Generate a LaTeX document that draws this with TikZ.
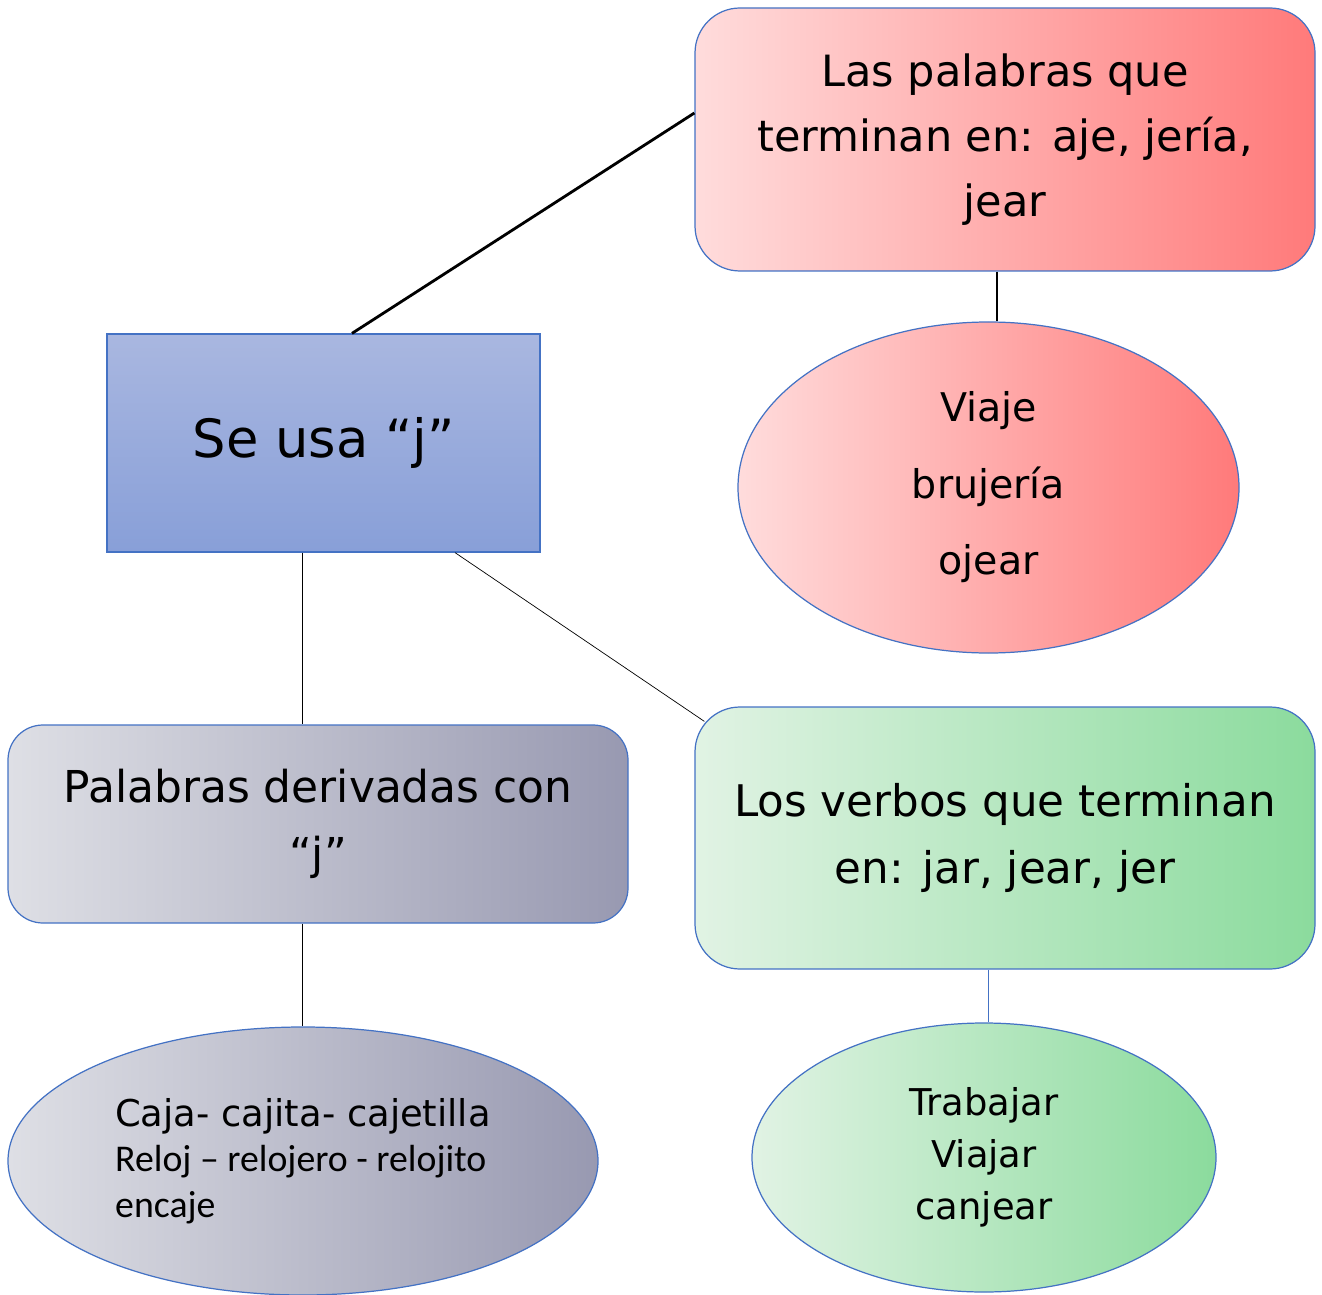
\documentclass[tikz,border=0pt]{standalone}
\usepackage{fontspec}
\setmainfont{DejaVu Sans}
\newfontfamily\calibrifont{Carlito}
\usetikzlibrary{positioning,shapes.geometric}
\definecolor{edgeblue}{HTML}{4472C4}
\begin{document}
\begin{tikzpicture}[
				bluebox/.style={rectangle, draw=edgeblue, line width=0.7pt, top color={rgb,255:red,169;green,183;blue,224}, bottom color={rgb,255:red,136;green,159;blue,216}, minimum width=8.66cm, minimum height=4.36cm, inner sep=0pt, font=\fontsize{30}{36}\selectfont},
				redbox/.style={rectangle, rounded corners=0.9cm, draw=edgeblue, line width=0.7pt, left color={rgb,255:red,255;green,220;blue,220}, right color={rgb,255:red,255;green,122;blue,122}, minimum width=12.4cm, minimum height=5.26cm, inner sep=0pt, align=center, font=\fontsize{24.5}{37}\selectfont},
				redellipse/.style={ellipse, draw=edgeblue, line width=0.7pt, left color={rgb,255:red,255;green,220;blue,220}, right color={rgb,255:red,255;green,122;blue,122}, minimum width=10.02cm, minimum height=6.62cm, inner sep=0pt, align=center, font=\fontsize{22.5}{43.5}\selectfont},
				greybox/.style={rectangle, rounded corners=0.7cm, draw=edgeblue, line width=0.7pt, left color={rgb,255:red,222;green,223;blue,229}, right color={rgb,255:red,152;green,153;blue,177}, minimum width=12.4cm, minimum height=3.96cm, inner sep=0pt, align=center, font=\fontsize{25}{38.5}\selectfont},
				greyellipse/.style={ellipse, draw=edgeblue, line width=0.7pt, left color={rgb,255:red,222;green,223;blue,229}, right color={rgb,255:red,152;green,153;blue,177}, minimum width=11.8cm, minimum height=5.36cm, inner sep=0pt, align=left, font=\fontsize{21}{26}\selectfont},
				greenbox/.style={rectangle, rounded corners=0.9cm, draw=edgeblue, line width=0.7pt, left color={rgb,255:red,225;green,243;blue,228}, right color={rgb,255:red,139;green,219;blue,157}, minimum width=12.4cm, minimum height=5.24cm, inner sep=0pt, align=center, font=\fontsize{24.8}{38}\selectfont},
				greenellipse/.style={ellipse, draw=edgeblue, line width=0.7pt, left color={rgb,255:red,225;green,243;blue,228}, right color={rgb,255:red,139;green,219;blue,157}, minimum width=9.28cm, minimum height=5.38cm, inner sep=0pt, align=center, font=\fontsize{21}{29.5}\selectfont},
			]
			\useasboundingbox (0,0) rectangle (26.44,-25.9);
			\node[bluebox] (seusa) at (6.47,-8.86) {Se usa “j”};
			\node[redbox] (palabras) at (20.1,-2.79) {Las palabras que\\ terminan en: aje, jería,\\ jear};
			\node[redellipse] (viaje) at (19.77,-9.75) {Viaje\\ brujería\\ ojear};
			\node[greybox] (derivadas) at (6.36,-16.48) {Palabras derivadas con\\ “j”};
			\node[greenbox] (verbos) at (20.1,-16.76) {Los verbos que terminan\\ en: jar, jear, jer};
			\node[greyellipse] (caja) at (6.06,-23.22) {Caja- cajita- cajetilla\\ {\calibrifont\fontsize{21.5}{26}\selectfont Reloj – relojero - relojito}\\ {\calibrifont\fontsize{21.5}{26}\selectfont encaje}};
			\node[greenellipse] (trabajar) at (19.68,-23.15) {Trabajar\\ Viajar\\ canjear};
			\begin{scope}[line width=1.6pt]
			\draw ([xshift=0.57cm]seusa.north) -- ([yshift=0.53cm]palabras.west);
			\draw ([xshift=-0.16cm]palabras.south) -- ([xshift=-0.16cm]palabras.south |- viaje.north);
			\end{scope}
			\begin{scope}[thin]
			\draw ([xshift=-0.43cm]seusa.south) -- ([xshift=-0.43cm]seusa.south |- derivadas.north);
			\draw ([xshift=2.63cm]seusa.south) -- ([xshift=0.2cm,yshift=-0.3cm]verbos.north west);
			\draw ([xshift=-0.32cm]derivadas.south) -- ([xshift=-0.32cm]derivadas.south |- caja.north);
			\draw[edgeblue] ([xshift=-0.34cm]verbos.south) -- ([xshift=-0.34cm]verbos.south |- trabajar.north);
			\end{scope}
			\end{tikzpicture}
\end{document}
